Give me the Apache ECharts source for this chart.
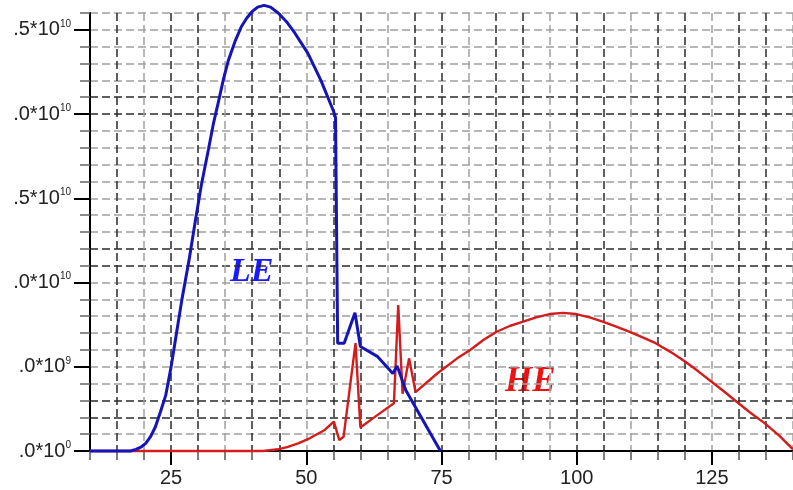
<!DOCTYPE html>
<html>
<head>
<meta charset="utf-8">
<style>
    html, body { margin: 0; padding: 0; background: #fff; }
    #chartData { width: 793px; height: 490px; }
</style>
<script src="https://cdn.jsdelivr.net/npm/echarts@6/dist/echarts.min.js"></script>
</head>
<body>
<div id="chartData"></div>
<script>
// LE 曲线 (蓝) : [x, y/1e9]
var leData = [
    [10, 0], [17.5, 0], [18.5, 0.1], [19.5, 0.25], [20.3, 0.45], [21.2, 0.85], [22.1, 1.44],
    [23.0, 2.3], [24.0, 3.3], [25.0, 5.0], [26.0, 7.0], [27.0, 9.0], [28.3, 11.3],
    [29.5, 13.7], [30.6, 15.8], [31.9, 17.9], [32.8, 19.4], [33.8, 20.8], [34.7, 22.1],
    [35.6, 23.2], [36.8, 24.3], [38.0, 25.2], [39.0, 25.7], [40.0, 26.1], [41.0, 26.35],
    [42.2, 26.45], [43.4, 26.35], [44.8, 26.0], [46.3, 25.5], [47.9, 24.8], [50.3, 23.6],
    [52.7, 22.0], [55.0, 20.2], [55.4, 19.8], [55.8, 6.4], [57.0, 6.4], [59.0, 8.2],
    [60.0, 6.2], [63.2, 5.6], [66.0, 4.6], [66.8, 5.05], [68.4, 3.6], [74.8, 0]
];

// HE 曲线 (红)
var heData = [
    [10, 0], [42, 0], [44.8, 0.1], [46.6, 0.25], [48.5, 0.45], [50.3, 0.7], [53.4, 1.25],
    [55.1, 1.75], [56.1, 0.65], [56.9, 0.85], [59.1, 6.4], [60.0, 1.4], [63.0, 2.1],
    [66.2, 2.83], [67.0, 8.67], [67.8, 3.4], [69.0, 5.5], [70.2, 3.5], [74.2, 4.6],
    [77.9, 5.5], [80.3, 6.0], [82.8, 6.6], [85.2, 7.08], [87.6, 7.42], [90.1, 7.68],
    [92.5, 7.93], [95.0, 8.13], [97.5, 8.2], [99.9, 8.13], [102.4, 7.93], [104.8, 7.68],
    [107.2, 7.4], [109.7, 7.08], [112.2, 6.75], [114.6, 6.4], [117.4, 5.87], [120.1, 5.3],
    [122.6, 4.7], [125.0, 4.1], [127.2, 3.55], [129.3, 3.0], [132.0, 2.3], [134.8, 1.64],
    [137.5, 0.9], [140, 0.1]
];

// 坐标轴刻度
var xTickValues = [25, 50, 75, 100, 125];
var yTickValues = [0, 5e9, 1e10, 1.5e10, 2e10, 2.5e10];
var yLabelMain = ['.0*10', '.0*10', '.0*10', '.5*10', '.0*10', '.5*10'];
var yLabelExp = ['0', '9', '10', '10', '10', '10'];

var toSeries = function (arr) {
    return arr.map(function (p) { return [p[0], p[1] * 1e9]; });
};

var dark = '#2a2a2a', grey = '#a0a0a0';

var myChart = echarts.init(document.getElementById('chartData'));

var option = {
    backgroundColor: '#ffffff',
    animation: false,
    grid: { left: 90, right: -5, top: 13, bottom: 39 },
    xAxis: [
        {
            type: 'value', min: 10, max: 140, interval: 5,
            axisLine: { lineStyle: { color: '#000', width: 2 } },
            axisTick: { length: 9, lineStyle: { color: '#555', width: 1.5 } },
            axisLabel: { show: false },
            splitLine: {
                show: true,
                lineStyle: { type: [8, 4], width: 1.5, color: [dark, dark, grey] }
            }
        },
        {
            type: 'value', min: 10, max: 140, position: 'bottom',
            axisLine: { show: false },
            axisTick: { customValues: xTickValues, length: 14, lineStyle: { color: '#000', width: 2 } },
            axisLabel: {
                customValues: xTickValues, margin: 17,
                fontFamily: 'Liberation Sans', fontSize: 20, color: '#222'
            },
            splitLine: { show: false }
        }
    ],
    yAxis: [
        {
            type: 'value', min: 0, max: 2.6e10, interval: 1e9,
            axisLine: { show: true, lineStyle: { color: '#000', width: 2 } },
            axisTick: { show: true, length: 10, lineStyle: { color: '#666', width: 1.5 } },
            axisLabel: { show: false },
            splitLine: {
                show: true,
                lineStyle: { type: [8, 4], width: 1.5, color: [grey, grey, dark, dark, grey, grey, grey, grey, grey] }
            }
        },
        {
            type: 'value', min: 0, max: 2.6e10, position: 'left',
            axisLine: { show: false },
            axisTick: { show: true, customValues: yTickValues, length: 16, lineStyle: { color: '#000', width: 2 } },
            axisLabel: {
                customValues: yTickValues, margin: 19,
                formatter: function (v) {
                    var i = Math.round(v / 5e9);
                    return '{m|' + yLabelMain[i] + '}{s|' + yLabelExp[i] + '}';
                },
                rich: {
                    m: { fontFamily: 'Liberation Sans', fontSize: 20, color: '#222', lineHeight: 22 },
                    s: { fontFamily: 'Liberation Sans', fontSize: 10, color: '#222', lineHeight: 22, verticalAlign: 'top' }
                }
            },
            splitLine: { show: false }
        }
    ],
    series: [
        {
            name: 'HE', type: 'line', data: toSeries(heData),
            symbol: 'none', clip: false,
            lineStyle: { color: '#d41c1c', width: 2.4 }
        },
        {
            name: 'LE', type: 'line', data: toSeries(leData),
            symbol: 'none', clip: false,
            lineStyle: { color: '#1414b8', width: 3 }
        }
    ],
    graphic: [
        {
            type: 'text', x: 230, y: 272,
            style: { text: 'LE', font: 'italic bold 34px "Liberation Serif"', fill: '#1a1aff', verticalAlign: 'middle' }
        },
        {
            type: 'text', x: 505, y: 382,
            style: { text: 'HE', font: 'italic bold 35px "Liberation Serif"', fill: '#ee1111', verticalAlign: 'middle' }
        }
    ]
};

myChart.setOption(option);
</script>
</body>
</html>
